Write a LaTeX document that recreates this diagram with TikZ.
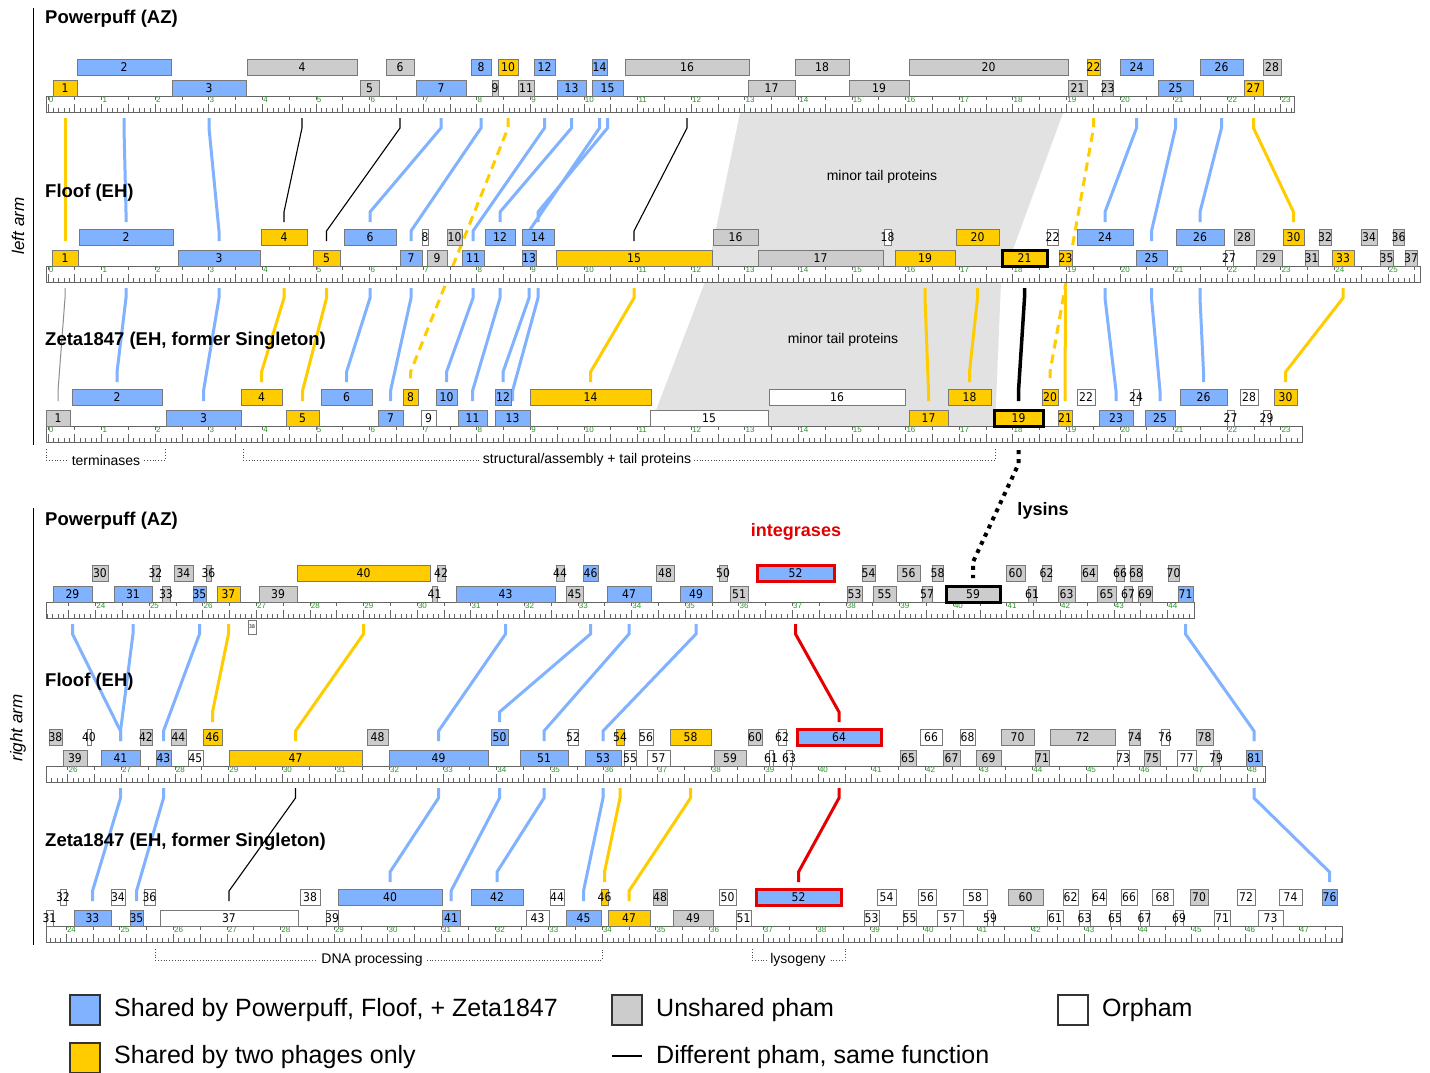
\documentclass[tikz,border=0pt]{standalone}
\usepackage{fontspec}
\setmainfont{Liberation Sans}
\newfontfamily\genefont[FakeStretch=0.9]{DejaVu Sans}
\usetikzlibrary{calc}
\pgfdeclarelayer{bgpoly}
\pgfdeclarelayer{bgline}
\pgfsetlayers{bgpoly,bgline,main}
\definecolor{myblue}{RGB}{128,178,255}
\definecolor{myyellow}{RGB}{255,204,0}
\definecolor{mygray}{RGB}{204,204,204}
\definecolor{tailgray}{RGB}{226,226,226}
\definecolor{myred}{RGB}{228,0,0}
\definecolor{boxedge}{RGB}{120,120,120}
\definecolor{rgreen}{RGB}{40,150,40}
\definecolor{tickc}{RGB}{100,100,100}

\newcommand\gT[5]{\pgfmathsetmacro\gwd{#4-#3}\pgfmathsetmacro\gxx{(#3+#4)/2}\pgfmathsetmacro\gyy{\RY-29}%
  \node[gbox,#2,minimum width=\gwd pt] (#1) at (\gxx,\gyy) {\makebox[0pt]{#5}};}
\newcommand\gB[5]{\pgfmathsetmacro\gwd{#4-#3}\pgfmathsetmacro\gxx{(#3+#4)/2}\pgfmathsetmacro\gyy{\RY-8}%
  \node[gbox,#2,minimum width=\gwd pt] (#1) at (\gxx,\gyy) {\makebox[0pt]{#5}};}
\newcommand\cn[5]{\draw[#1] (#2 |- #3) -- ++(0,10) -- ($(#4 |- #5)+(0,-10)$) -- (#4 |- #5);}
\newcommand\rulerbar[6]{%
  \draw[rulerbox] (#2,#1) rectangle (#3,#1+16);
  \begin{scope}
  \clip (#2,#1) rectangle (#3,#1+16);
  \foreach \n in {#5,...,#6}{
    \pgfmathsetmacro\tx{#4+5.36*\n}
    \pgfmathtruncatemacro\hm{mod(\n,5)}
    \pgfmathtruncatemacro\km{mod(\n,10)}
    \ifnum\hm=0
      \draw[tick] (\tx,#1) -- ++(0,4);
      \draw[tick] (\tx,#1+16) -- ++(0,-8);
    \else
      \draw[tick] (\tx,#1+16) -- ++(0,-4.5);
    \fi
    \ifnum\km=0
      \pgfmathtruncatemacro\kk{\n/10}
      \node[rlbl] at (\tx+0.7,#1+0.5) {\kk};
    \fi
  }
  \end{scope}}

\begin{document}
\begin{tikzpicture}[x=1pt,y=-1pt,
  gbox/.style={rectangle,draw=boxedge,line width=0.8pt,inner sep=0pt,minimum height=16pt,
     font=\genefont\fontsize{12}{12}\selectfont},
  gBl/.style={fill=myblue},
  gYe/.style={fill=myyellow},
  gGr/.style={fill=mygray},
  gWh/.style={fill=white},
  gRed/.style={fill=myblue,draw=myred,line width=3pt},
  gThk/.style={draw=black,line width=3pt},
  rulerbox/.style={fill=white,draw=tickc,line width=0.8pt},
  tick/.style={draw=tickc,line width=0.65pt},
  rlbl/.style={anchor=north west,inner sep=0pt,text=rgreen,font=\fontsize{8}{8}\selectfont},
  cb/.style={draw=myblue,line width=3pt},
  cy/.style={draw=myyellow,line width=3pt},
  cyd/.style={draw=myyellow,line width=3pt,dash pattern=on 9pt off 6pt},
  ck/.style={draw=black,line width=1.1pt},
  ckk/.style={draw=black,line width=3.5pt},
  cr/.style={draw=myred,line width=3pt},
  cg/.style={draw=black!45,line width=1pt},
  lys/.style={draw=black,line width=4pt,dash pattern=on 4pt off 5pt},
  phage/.style={anchor=west,inner sep=0pt,font=\bfseries\fontsize{18.5}{18.5}\selectfont},
  note/.style={inner sep=0pt,font=\fontsize{14}{14}\selectfont},
  brk/.style={draw=black!70,line width=0.8pt,dotted},
  brtxt/.style={fill=white,inner sep=3pt,font=\fontsize{14}{14}\selectfont},
  legbox/.style={draw=black!80,line width=1.5pt,minimum size=30pt,inner sep=0pt},
  legt/.style={anchor=west,inner sep=0pt,font=\fontsize{25}{25}\selectfont}
]
\useasboundingbox (0,0) rectangle (1430,1072);
\begin{pgfonlayer}{bgpoly}
\fill[white] (0,0) rectangle (1430,1072);
\fill[tailgray] (740,113) -- (1063,113) -- (1001,282) -- (995,426) -- (650,426) -- (705,282) -- cycle;
\end{pgfonlayer}

% level coordinates
\coordinate (L1s) at (0,118);
\coordinate (L2t) at (0,222);
\coordinate (L2b) at (0,241);
\coordinate (L2s) at (0,288);
\coordinate (L3t) at (0,382);
\coordinate (L3b) at (0,401);
\coordinate (L3s) at (0,450);
\coordinate (Lly) at (0,578);
\coordinate (L4s) at (0,624);
\coordinate (L5t) at (0,722);
\coordinate (L5b) at (0,741);
\coordinate (L5s) at (0,788);
\coordinate (L6t) at (0,882);
\coordinate (L6b) at (0,901);

% side bars and labels
\coordinate (v1a) at (33,8); \coordinate (v1b) at (33,445);
\coordinate (v2a) at (33,508); \coordinate (v2b) at (33,945);
\draw[line width=1pt] (v1a) -- (v1b);
\draw[line width=1pt] (v2a) -- (v2b);
\node[rotate=90,font=\itshape\fontsize{17}{17}\selectfont] (arml) at (18,226) {left arm};
\node[rotate=90,font=\itshape\fontsize{17}{17}\selectfont] (armr) at (18,728) {right arm};

\node[phage] (p1) at (45,19) {Powerpuff (AZ)};
\node[phage] (p2) at (45,193) {Floof (EH)};
\node[phage] (p3) at (45,341) {Zeta1847 (EH, former Singleton)};
\node[phage] (p4) at (45,521) {Powerpuff (AZ)};
\node[phage] (p5) at (45,682) {Floof (EH)};
\node[phage] (p6) at (45,842) {Zeta1847 (EH, former Singleton)};

\node[note] (mt1) at (882,177) {minor tail proteins};
\node[note] (mt2) at (843,340) {minor tail proteins};

% rulers
\rulerbar{96}{46}{1294}{48}{0}{232}
\rulerbar{266}{46}{1420}{48}{0}{256}
\rulerbar{426}{46}{1302}{48}{0}{234}
\rulerbar{602}{46}{1194}{-1190.9}{231}{445}
\rulerbar{766}{46}{1265}{-1325.9}{256}{483}
\rulerbar{926}{46}{1342}{-1220.3}{237}{478}

% ---------- Row 1: Powerpuff left
\def\RY{96}
\gT{a2}{gBl}{77}{171}{2}
\gT{a4}{gGr}{247}{357}{4}
\gT{a6}{gGr}{386}{414}{6}
\gT{a8}{gBl}{471}{491}{8}
\gT{a10}{gYe}{498}{518}{10}
\gT{a12}{gBl}{534}{555}{12}
\gT{a14}{gBl}{592}{607}{14}
\gT{a16}{gGr}{625}{749}{16}
\gT{a18}{gGr}{795}{849}{18}
\gT{a20}{gGr}{909}{1068}{20}
\gT{a22}{gYe}{1087}{1100}{22}
\gT{a24}{gBl}{1120}{1153}{24}
\gT{a26}{gBl}{1200}{1243}{26}
\gT{a28}{gGr}{1263}{1281}{28}
\gB{a1}{gYe}{53}{77}{1}
\gB{a3}{gBl}{172}{246}{3}
\gB{a5}{gGr}{360}{379}{5}
\gB{a7}{gBl}{416}{466}{7}
\gB{a9}{gGr}{492}{498}{9}
\gB{a11}{gGr}{518}{534}{11}
\gB{a13}{gBl}{557}{586}{13}
\gB{a15}{gBl}{592}{623}{15}
\gB{a17}{gGr}{748}{795}{17}
\gB{a19}{gGr}{849}{909}{19}
\gB{a21}{gGr}{1068}{1087}{21}
\gB{a23}{gGr}{1102}{1113}{23}
\gB{a25}{gBl}{1158}{1193}{25}
\gB{a27}{gYe}{1244}{1263}{27}

% ---------- Row 2: Floof left
\def\RY{266}
\gT{b2}{gBl}{79}{173}{2}
\gT{b4}{gYe}{261}{307}{4}
\gT{b6}{gBl}{344}{396}{6}
\gT{b8}{gWh}{422}{428}{8}
\gT{b10}{gGr}{447}{462}{10}
\gT{b12}{gBl}{485}{515}{12}
\gT{b14}{gBl}{522}{554}{14}
\gT{b16}{gGr}{713}{758}{16}
\gT{b18}{gWh}{884}{891}{18}
\gT{b20}{gYe}{956}{999}{20}
\gT{b22}{gWh}{1047}{1058}{22}
\gT{b24}{gBl}{1077}{1133}{24}
\gT{b26}{gBl}{1176}{1224}{26}
\gT{b28}{gGr}{1234}{1254}{28}
\gT{b30}{gYe}{1283}{1304}{30}
\gT{b32}{gGr}{1319}{1331}{32}
\gT{b34}{gGr}{1361}{1377}{34}
\gT{b36}{gGr}{1393}{1404}{36}
\gB{b1}{gYe}{52}{78}{1}
\gB{b3}{gBl}{178}{260}{3}
\gB{b5}{gYe}{313}{340}{5}
\gB{b7}{gBl}{400}{422}{7}
\gB{b9}{gGr}{427}{447}{9}
\gB{b11}{gBl}{462}{484}{11}
\gB{b13}{gBl}{522}{536}{13}
\gB{b15}{gYe}{556}{712}{15}
\gB{b17}{gGr}{758}{883}{17}
\gB{b19}{gYe}{895}{955}{19}
\gB{b21}{gYe,gThk}{1002}{1047}{21}
\gB{b23}{gYe}{1059}{1072}{23}
\gB{b25}{gBl}{1136}{1167}{25}
\gB{b27}{gWh}{1225}{1233}{27}
\gB{b29}{gGr}{1256}{1282}{29}
\gB{b31}{gGr}{1305}{1318}{31}
\gB{b33}{gYe}{1332}{1354}{33}
\gB{b35}{gGr}{1380}{1393}{35}
\gB{b37}{gGr}{1405}{1417}{37}

% ---------- Row 3: Zeta1847 left
\def\RY{426}
\gT{c2}{gBl}{72}{162}{2}
\gT{c4}{gYe}{241}{282}{4}
\gT{c6}{gBl}{321}{372}{6}
\gT{c8}{gYe}{403}{418}{8}
\gT{c10}{gBl}{436}{457}{10}
\gT{c12}{gBl}{495}{511}{12}
\gT{c14}{gYe}{530}{651}{14}
\gT{c16}{gWh}{769}{905}{16}
\gT{c18}{gYe}{948}{991}{18}
\gT{c20}{gYe}{1042}{1058}{20}
\gT{c22}{gWh}{1077}{1095}{22}
\gT{c24}{gWh}{1133}{1139}{24}
\gT{c26}{gBl}{1180}{1227}{26}
\gT{c28}{gWh}{1240}{1258}{28}
\gT{c30}{gYe}{1274}{1297}{30}
\gB{c1}{gGr}{46}{70}{1}
\gB{c3}{gBl}{166}{241}{3}
\gB{c5}{gYe}{286}{319}{5}
\gB{c7}{gBl}{378}{403}{7}
\gB{c9}{gWh}{421}{436}{9}
\gB{c11}{gBl}{458}{487}{11}
\gB{c13}{gBl}{495}{530}{13}
\gB{c15}{gWh}{650}{768}{15}
\gB{c17}{gYe}{909}{948}{17}
\gB{c19}{gYe,gThk}{994}{1043}{19}
\gB{c21}{gYe}{1058}{1072}{21}
\gB{c23}{gBl}{1099}{1133}{23}
\gB{c25}{gBl}{1145}{1175}{25}
\gB{c27}{gWh}{1227}{1234}{27}
\gB{c29}{gWh}{1263}{1270}{29}

% ---------- Row 4: Powerpuff right
\def\RY{602}
\gT{d30}{gGr}{92}{108}{30}
\gT{d32}{gGr}{152}{159}{32}
\gT{d34}{gGr}{174}{193}{34}
\gT{d36}{gGr}{206}{211}{36}
\gT{d40}{gYe}{297}{430}{40}
\gT{d42}{gGr}{437}{445}{42}
\gT{d44}{gGr}{556}{564}{44}
\gT{d46}{gBl}{583}{598}{46}
\gT{d48}{gGr}{656}{674}{48}
\gT{d50}{gGr}{719}{727}{50}
\gT{d52}{gRed}{757}{834}{52}
\gT{d54}{gGr}{862}{875}{54}
\gT{d56}{gGr}{897}{920}{56}
\gT{d58}{gGr}{932}{943}{58}
\gT{d60}{gGr}{1006}{1025}{60}
\gT{d62}{gGr}{1042}{1051}{62}
\gT{d64}{gGr}{1081}{1097}{64}
\gT{d66}{gGr}{1116}{1124}{66}
\gT{d68}{gGr}{1130}{1142}{68}
\gT{d70}{gGr}{1168}{1179}{70}
\gB{d29}{gBl}{53}{92}{29}
\gB{d31}{gBl}{114}{152}{31}
\gB{d33}{gGr}{162}{170}{33}
\gB{d35}{gBl}{193}{206}{35}
\gB{d37}{gYe}{217}{240}{37}
\gB{d39}{gGr}{259}{297}{39}
\gB{d41}{gGr}{432}{437}{41}
\gB{d43}{gBl}{456}{555}{43}
\gB{d45}{gGr}{566}{583}{45}
\gB{d47}{gBl}{607}{651}{47}
\gB{d49}{gBl}{680}{712}{49}
\gB{d51}{gGr}{730}{748}{51}
\gB{d53}{gGr}{847}{862}{53}
\gB{d55}{gGr}{873}{896}{55}
\gB{d57}{gGr}{922}{932}{57}
\gB{d59}{gGr,gThk}{946}{1000}{59}
\gB{d61}{gGr}{1028}{1036}{61}
\gB{d63}{gGr}{1058}{1075}{63}
\gB{d65}{gGr}{1097}{1116}{65}
\gB{d67}{gGr}{1124}{1132}{67}
\gB{d69}{gGr}{1138}{1152}{69}
\gB{d71}{gBl}{1178}{1193}{71}
\node[gbox,gWh,minimum width=8pt,minimum height=14pt,font=\genefont\fontsize{5}{5}\selectfont] (d38) at (252,627) {\makebox[0pt]{38}};

% ---------- Row 5: Floof right
\def\RY{766}
\gT{e38}{gGr}{49}{62}{38}
\gT{e40}{gWh}{87}{91}{40}
\gT{e42}{gGr}{140}{152}{42}
\gT{e44}{gGr}{171}{186}{44}
\gT{e46}{gYe}{203}{222}{46}
\gT{e48}{gGr}{367}{388}{48}
\gT{e50}{gBl}{491}{508}{50}
\gT{e52}{gWh}{568}{578}{52}
\gT{e54}{gYe}{616}{624}{54}
\gT{e56}{gWh}{639}{653}{56}
\gT{e58}{gYe}{670}{711}{58}
\gT{e60}{gGr}{748}{762}{60}
\gT{e62}{gWh}{778}{786}{62}
\gT{e64}{gRed}{797}{881}{64}
\gT{e66}{gWh}{920}{942}{66}
\gT{e68}{gWh}{960}{975}{68}
\gT{e70}{gGr}{1001}{1034}{70}
\gT{e72}{gGr}{1050}{1115}{72}
\gT{e74}{gGr}{1129}{1140}{74}
\gT{e76}{gWh}{1161}{1169}{76}
\gT{e78}{gGr}{1196}{1213}{78}
\gB{e39}{gGr}{63}{87}{39}
\gB{e41}{gBl}{101}{140}{41}
\gB{e43}{gBl}{156}{171}{43}
\gB{e45}{gWh}{188}{203}{45}
\gB{e47}{gYe}{229}{362}{47}
\gB{e49}{gBl}{389}{488}{49}
\gB{e51}{gBl}{520}{568}{51}
\gB{e53}{gBl}{585}{621}{53}
\gB{e55}{gWh}{624}{636}{55}
\gB{e57}{gWh}{647}{670}{57}
\gB{e59}{gGr}{714}{746}{59}
\gB{e61}{gWh}{769}{773}{61}
\gB{e63}{gWh}{786}{792}{63}
\gB{e65}{gGr}{900}{916}{65}
\gB{e67}{gGr}{943}{960}{67}
\gB{e69}{gGr}{976}{1001}{69}
\gB{e71}{gGr}{1035}{1049}{71}
\gB{e73}{gWh}{1117}{1129}{73}
\gB{e75}{gGr}{1144}{1160}{75}
\gB{e77}{gWh}{1177}{1196}{77}
\gB{e79}{gGr}{1213}{1219}{79}
\gB{e81}{gBl}{1246}{1262}{81}

% ---------- Row 6: Zeta1847 right
\def\RY{926}
\gT{f32}{gWh}{60}{66}{32}
\gT{f34}{gWh}{111}{125}{34}
\gT{f36}{gWh}{144}{155}{36}
\gT{f38}{gWh}{300}{320}{38}
\gT{f40}{gBl}{338}{442}{40}
\gT{f42}{gBl}{471}{523}{42}
\gT{f44}{gWh}{550}{564}{44}
\gT{f46}{gYe}{601}{608}{46}
\gT{f48}{gGr}{653}{667}{48}
\gT{f50}{gWh}{719}{736}{50}
\gT{f52}{gRed}{756}{841}{52}
\gT{f54}{gWh}{877}{896}{54}
\gT{f56}{gWh}{918}{936}{56}
\gT{f58}{gWh}{963}{987}{58}
\gT{f60}{gGr}{1008}{1043}{60}
\gT{f62}{gWh}{1063}{1078}{62}
\gT{f64}{gWh}{1092}{1106}{64}
\gT{f66}{gWh}{1121}{1137}{66}
\gT{f68}{gWh}{1152}{1173}{68}
\gT{f70}{gGr}{1190}{1208}{70}
\gT{f72}{gWh}{1237}{1255}{72}
\gT{f74}{gWh}{1279}{1302}{74}
\gT{f76}{gBl}{1322}{1337}{76}
\gB{f31}{gWh}{46}{53}{31}
\gB{f33}{gBl}{74}{111}{33}
\gB{f35}{gBl}{130}{143}{35}
\gB{f37}{gWh}{160}{298}{37}
\gB{f39}{gWh}{326}{338}{39}
\gB{f41}{gBl}{442}{460}{41}
\gB{f43}{gWh}{526}{549}{43}
\gB{f45}{gBl}{566}{601}{45}
\gB{f47}{gYe}{608}{650}{47}
\gB{f49}{gGr}{673}{713}{49}
\gB{f51}{gWh}{736}{751}{51}
\gB{f53}{gWh}{864}{879}{53}
\gB{f55}{gWh}{903}{916}{55}
\gB{f57}{gWh}{937}{963}{57}
\gB{f59}{gWh}{987}{993}{59}
\gB{f61}{gWh}{1047}{1063}{61}
\gB{f63}{gWh}{1079}{1090}{63}
\gB{f65}{gWh}{1110}{1120}{65}
\gB{f67}{gWh}{1140}{1149}{67}
\gB{f69}{gWh}{1175}{1183}{69}
\gB{f71}{gWh}{1214}{1230}{71}
\gB{f73}{gWh}{1258}{1283}{73}

% ---------- connectors
\begin{pgfonlayer}{bgline}
\cn{cy}{a1}{L1s}{b1}{L2b}
\cn{cb}{a2}{L1s}{b2}{L2t}
\cn{cb}{a3}{L1s}{b3}{L2b}
\cn{ck}{a4}{L1s}{b4}{L2t}
\cn{ck}{a6}{L1s}{b5}{L2b}
\cn{cb}{a7}{L1s}{b6}{L2t}
\cn{cb}{a8}{L1s}{b7}{L2b}
\cn{cyd}{a10}{L1s}{c8}{L3t}
\cn{cb}{a12}{L1s}{b11}{L2b}
\cn{cb}{a13}{L1s}{b12}{L2t}
\cn{cb}{a14}{L1s}{b13}{L2b}
\cn{cb}{a15}{L1s}{b14}{L2t}
\cn{ck}{a16}{L1s}{b15}{L2b}
\cn{cyd}{a22}{L1s}{c20}{L3t}
\cn{cb}{a24}{L1s}{b24}{L2t}
\cn{cb}{a25}{L1s}{b25}{L2b}
\cn{cb}{a26}{L1s}{b26}{L2t}
\cn{cy}{a27}{L1s}{b30}{L2t}

\cn{cg}{b1}{L2s}{c1}{L3b}
\cn{cb}{b2}{L2s}{c2}{L3t}
\cn{cb}{b3}{L2s}{c3}{L3b}
\cn{cy}{b4}{L2s}{c4}{L3t}
\cn{cy}{b5}{L2s}{c5}{L3b}
\cn{cb}{b6}{L2s}{c6}{L3t}
\cn{cb}{b7}{L2s}{c7}{L3b}
\cn{cb}{b11}{L2s}{c10}{L3t}
\cn{cb}{b12}{L2s}{c11}{L3b}
\cn{cb}{b13}{L2s}{c12}{L3t}
\cn{cb}{b14}{L2s}{c13}{L3b}
\cn{cy}{b15}{L2s}{c14}{L3t}
\cn{cy}{b19}{L2s}{c17}{L3b}
\cn{cy}{b20}{L2s}{c18}{L3t}
\cn{ckk}{b21}{L2s}{c19}{L3b}
\cn{cy}{b23}{L2s}{c21}{L3b}
\cn{cb}{b24}{L2s}{c23}{L3b}
\cn{cb}{b25}{L2s}{c25}{L3b}
\cn{cb}{b26}{L2s}{c26}{L3t}
\cn{cy}{b33}{L2s}{c30}{L3t}

\draw[lys] (c19 |- L3s) -- ++(0,14) -- ($(d59 |- Lly)+(0,-16)$) -- (d59 |- Lly);

\cn{cb}{d29}{L4s}{e41}{L5b}
\cn{cb}{d31}{L4s}{e41}{L5b}
\cn{cb}{d35}{L4s}{e43}{L5b}
\cn{cy}{d37}{L4s}{e46}{L5t}
\cn{cy}{d40}{L4s}{e47}{L5b}
\cn{cb}{d43}{L4s}{e49}{L5b}
\cn{cb}{d46}{L4s}{e50}{L5t}
\cn{cb}{d47}{L4s}{e51}{L5b}
\cn{cb}{d49}{L4s}{e53}{L5b}
\cn{cr}{d52}{L4s}{e64}{L5t}
\cn{cb}{d71}{L4s}{e81}{L5b}

\cn{cb}{e41}{L5s}{f33}{L6b}
\cn{cb}{e43}{L5s}{f35}{L6b}
\cn{ck}{e47}{L5s}{f37}{L6b}
\cn{cb}{e49}{L5s}{f40}{L6t}
\cn{cb}{e50}{L5s}{f41}{L6b}
\cn{cb}{e51}{L5s}{f42}{L6t}
\cn{cb}{e53}{L5s}{f45}{L6b}
\cn{cy}{e54}{L5s}{f46}{L6t}
\cn{cy}{e58}{L5s}{f47}{L6b}
\cn{cr}{e64}{L5s}{f52}{L6t}
\cn{cb}{e81}{L5s}{f76}{L6t}
\end{pgfonlayer}

\node[font=\bfseries\fontsize{18}{18}\selectfont] (lysl) at (1043,511) {lysins};
\node[font=\bfseries\fontsize{18}{18}\selectfont,text=myred] (intl) at (796,532) {integrases};

% brackets
\draw[brk] (46,449) -- (46,460) -- (165,460) -- (165,449);
\node[brtxt] (br1) at (106,460) {terminases};
\draw[brk] (243,449) -- (243,460) -- (995,460) -- (995,449);
\node[brtxt] (br2) at (587,460) {structural/assembly + tail proteins};
\draw[brk] (155,949) -- (155,960) -- (602,960) -- (602,949);
\node[brtxt] (br3) at (372,960) {DNA processing};
\draw[brk] (752,949) -- (752,960) -- (845,960) -- (845,949);
\node[brtxt] (br4) at (798,960) {lysogeny};

% legend
\node[legbox,fill=myblue] (k1) at (85,1010) {};
\node[legt] (k1t) at (114,1010) {Shared by Powerpuff, Floof, + Zeta1847};
\node[legbox,fill=mygray] (k2) at (627,1010) {};
\node[legt] (k2t) at (656,1010) {Unshared pham};
\node[legbox,fill=white] (k3) at (1073,1010) {};
\node[legt] (k3t) at (1102,1010) {Orpham};
\node[legbox,fill=myyellow] (k4) at (85,1058) {};
\node[legt] (k4t) at (114,1057) {Shared by two phages only};
\coordinate (k5a) at (612,1056); \coordinate (k5b) at (642,1056);
\draw[line width=1.2pt] (k5a) -- (k5b);
\node[legt] (k5t) at (656,1057) {Different pham, same function};
\end{tikzpicture}
\end{document}
